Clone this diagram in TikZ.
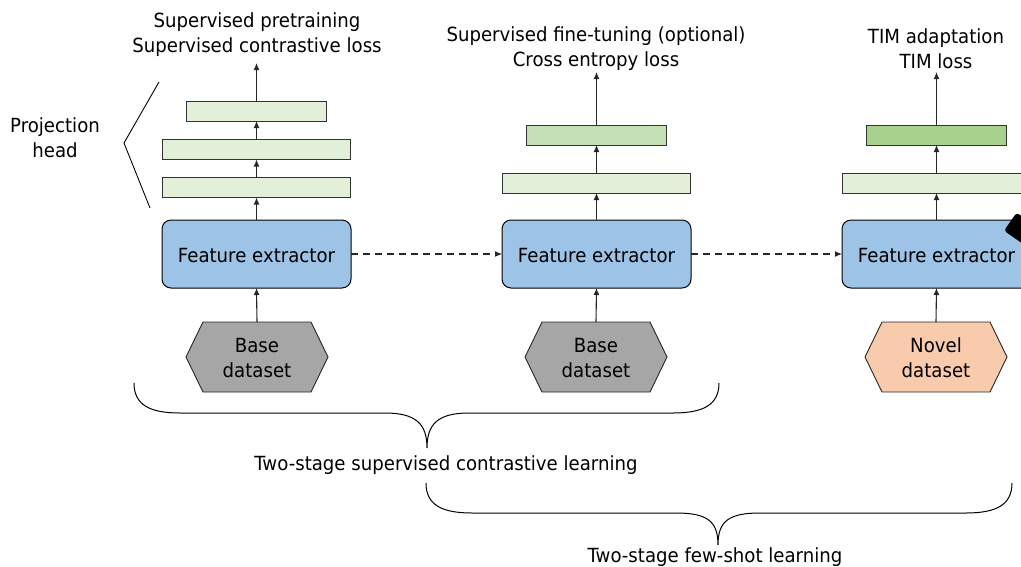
\documentclass[tikz,border=0pt]{standalone}
\usepackage{fontspec}
\setmainfont{DejaVu Sans}[FakeStretch=0.93]
\usetikzlibrary{arrows.meta}

\definecolor{fxblue}{HTML}{9DC3E6}
\definecolor{headlight}{HTML}{E2F0D9}
\definecolor{headmid}{HTML}{C5E0B4}
\definecolor{headdark}{HTML}{A9D18E}
\definecolor{basegray}{HTML}{A6A6A6}
\definecolor{novelpeach}{HTML}{F8CBAD}
\definecolor{linegray}{HTML}{262626}

\tikzset{
  txt/.style={font=\fontsize{19.5}{25}\selectfont, align=center, inner sep=0pt},
  fxbox/.style={draw=black, line width=1pt, fill=fxblue, rounded corners=9pt,
    minimum width=189pt, minimum height=68pt, inner sep=0pt, outer sep=0pt},
  fxlabel/.style={font=\fontsize{19.5}{25}\selectfont, inner sep=0pt},
  layer/.style={draw=black!80, line width=0.9pt, minimum height=20pt,
    inner sep=0pt, outer sep=0pt},
  widelayer/.style={layer, minimum width=188pt},
  narrowlayer/.style={layer, minimum width=140pt},
  hexcore/.style={minimum width=108pt, minimum height=70pt, inner sep=0pt,
    outer sep=0pt, align=center, font=\fontsize{19.5}{25}\selectfont},
  hexfill/.style={draw=black!85, line width=0.9pt},
  flow/.style={draw=linegray, line width=1.1pt, -{Latex[length=7pt,width=6pt]}},
  dashflow/.style={flow, dash pattern=on 7pt off 5pt},
  bracepath/.style={draw=black, line width=1pt},
}

\begin{document}
\begin{tikzpicture}[x=1pt,y=-1pt]
\useasboundingbox (0,0) rectangle (1021,566);
\clip (0,0) rectangle (1021,566);

% ---- feature extractors ----
\node[fxbox] (fx1) at (256.5,254) {};
\node[fxbox] (fx2) at (596.5,254) {};
\node[fxbox] (fx3) at (936.5,254) {};
\foreach \f in {fx1,fx2,fx3}{
  \node[fxlabel] at ([yshift=-1.5pt]\f.center) {Feature extractor};
}

% small frozen-weights badge on the last extractor
\fill[black, rounded corners=3pt, rotate around={-35:(1024,230)}]
  (1008,220) rectangle (1040,242);

% ---- heads ----
\node[widelayer, fill=headlight] (p1a) at (256.5,187.5) {};
\node[widelayer, fill=headlight] (p1b) at (256.5,149.5) {};
\node[narrowlayer, fill=headlight] (p1c) at (256.5,111) {};
\coordinate (o1) at (256.5,63);

\node[widelayer, fill=headlight] (p2a) at (596.5,183) {};
\node[narrowlayer, fill=headmid] (p2b) at (596.5,135) {};
\coordinate (o2) at (596.5,72);

\node[widelayer, fill=headlight] (p3a) at (936.5,183) {};
\node[narrowlayer, fill=headdark] (p3b) at (936.5,135) {};
\coordinate (o3) at (936.5,72);

% ---- datasets ----
\node[hexcore] (d1) at (257,357) {};
\node[hexcore] (d2) at (596,357) {};
\node[hexcore] (d3) at (936,357) {};
\foreach \d/\c in {d1/basegray, d2/basegray, d3/novelpeach}{
  \draw[hexfill, fill=\c] (\d.north west) -- (\d.north east) -- ++(17,35)
    -- (\d.south east) -- (\d.south west) -- ++(-17,-35) -- cycle;
}
\node[hexcore] at ([yshift=-1pt]d1.center) {Base\\dataset};
\node[hexcore] at ([yshift=-1pt]d2.center) {Base\\dataset};
\node[hexcore] at ([yshift=-1pt]d3.center) {Novel\\dataset};

% ---- data flow ----
\draw[flow] (d1.north) -- (fx1.south);
\draw[flow] (d2.north) -- (fx2.south);
\draw[flow] (d3.north) -- (fx3.south);

\draw[flow] (fx1.north) -- (p1a.south);
\draw[flow] (p1a.north) -- (p1b.south);
\draw[flow] (p1b.north) -- (p1c.south);
\draw[flow] (p1c.north) -- (o1);

\draw[flow] (fx2.north) -- (p2a.south);
\draw[flow] (p2a.north) -- (p2b.south);
\draw[flow] (p2b.north) -- (o2);

\draw[flow] (fx3.north) -- (p3a.south);
\draw[flow] (p3a.north) -- (p3b.south);
\draw[flow] (p3b.north) -- (o3);

\draw[dashflow] (fx1.east) -- (fx2.west);
\draw[dashflow] (fx2.east) -- (fx3.west);

% ---- titles ----
\node[txt] (t1) at (257,34.5) {Supervised pretraining\\Supervised contrastive loss};
\node[txt] (t2) at (596,48.5) {Supervised fine-tuning (optional)\\Cross entropy loss};
\node[txt] (t3) at (936,48.5) {TIM adaptation\\TIM loss};

% ---- projection head bracket ----
\node[txt] (ph) at (55,138) {Projection\\head};
\coordinate (pha) at (159,82);
\coordinate (phm) at (124,143);
\coordinate (phb) at (150,208);
\draw[line width=0.9pt] (pha) -- (phm) -- (phb);

% ---- stage braces ----
\draw[bracepath] (134,383) .. controls (134,405) and (150,413) .. (180,413)
  -- (385,413) .. controls (416,413) and (427,424) .. (427,448)
  .. controls (427,424) and (438,413) .. (469,413)
  -- (673,413) .. controls (703,413) and (719,405) .. (719,383);
\node[txt] (s1) at (446,465) {Two-stage supervised contrastive learning};

\draw[bracepath] (426,483) .. controls (426,505) and (442,513) .. (472,513)
  -- (676,513) .. controls (707,513) and (718,521) .. (718,545)
  .. controls (718,521) and (729,513) .. (760,513)
  -- (966,513) .. controls (996,513) and (1012,505) .. (1012,483);
\node[txt] (s2) at (715,557) {Two-stage few-shot learning};
\end{tikzpicture}
\end{document}
